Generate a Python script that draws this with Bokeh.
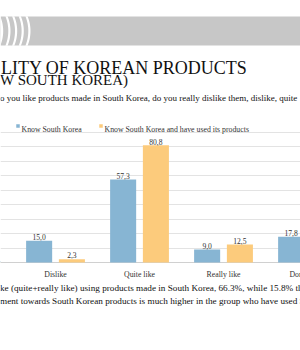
import numpy as np
from bokeh.plotting import figure
from bokeh.models import Range1d, Grid, FixedTicker, ColumnDataSource
from bokeh.core.properties import value
from bokeh.embed import file_html
from bokeh.resources import INLINE

# ---- data ----
categories = ["Really dislike", "Dislike", "Quite like", "Really like", "Don't know"]
know_sk = [1.0, 15.0, 57.3, 9.0, 17.8]
know_used = [0.3, 2.3, 80.8, 12.5, 4.0]
series_names = ["Know South Korea", "Know South Korea and have used its products"]
grid_ticks = [10, 20, 30, 40, 50, 60, 70, 80, 90]

title1 = "LITY OF KOREAN PRODUCTS"
title2 = "W SOUTH KOREA)"
subtitle = "o you like products made in South Korea, do you really dislike them, dislike, quite"
footer1 = "ke (quite+really like) using products made in South Korea, 66.3%, while 15.8% th"
footer2 = "ment towards South Korean products is much higher in the group who have used S"

BLUE = "#87b5d3"
ORANGE = "#fccb7c"
FONT = value("Liberation Serif")

p = figure(width=300, height=350, output_backend="svg", toolbar_location=None,
           x_range=Range1d(0, 300), y_range=Range1d(0, 350), title=None,
           x_axis_type=None, y_axis_type=None, min_border=0)
p.outline_line_color = None
p.background_fill_color = "white"
p.border_fill_color = "white"

H = 350  # canvas height; positions below are measured from the top via H - y

# category / value ranges
p.extra_x_ranges = {"cat": Range1d(0.345, 0.345 + 300 / 84.0)}
vstart = -88 / 1.45
p.extra_y_ranges = {"val": Range1d(vstart, vstart + 350 / 1.45)}

# header band, with curved white stripes at its left end
p.quad(left=[0], right=[300], bottom=[H - 45], top=[H - 16],
       fill_color="#c7c7c7", line_color=None)
stripe_right = [2.7, 10, 16.7, 23.3, 30]
R = 39
ang = np.linspace(-0.39, 0.39, 20)
sx, sy = [], []
for a in stripe_right:
    outer_x = (a - R) + R * np.cos(ang)
    outer_y = (H - 30.5) + R * np.sin(ang)
    sx.append(list(outer_x) + list((outer_x - 2.2)[::-1]))
    sy.append(list(outer_y) + list(outer_y[::-1]))
p.patches(xs=sx, ys=sy, fill_color="white", line_color=None)

# titles
p.text(x=[0.5], y=[H - 67], text=[title1], text_font=FONT, text_font_size="18px",
       text_baseline="alphabetic", text_color="#111111")
p.text(x=[-0.5], y=[H - 79.5], text=[title2], text_font=FONT, text_font_size="15px",
       text_baseline="alphabetic", text_color="#111111")
p.text(x=[-0.5], y=[H - 97.5], text=[subtitle], text_font=FONT, text_font_size="9px",
       text_baseline="alphabetic", text_color="#111111")

# grid
g = Grid(dimension=1, ticker=FixedTicker(ticks=grid_ticks), y_range_name="val",
         grid_line_color="#e3e3e3", grid_line_width=1)
p.add_layout(g)
g0 = Grid(dimension=1, ticker=FixedTicker(ticks=[0]), y_range_name="val",
          grid_line_color="#d0d0d0", grid_line_width=1)
p.add_layout(g0)

# bars
idx = list(range(len(categories)))
src = ColumnDataSource(dict(
    x1=[i - 0.195 for i in idx], x2=[i + 0.195 for i in idx],
    v1=know_sk, v2=know_used,
    l1=[f"{v:.1f}".replace(".", ",") for v in know_sk],
    l2=[f"{v:.1f}".replace(".", ",") for v in know_used],
    cat=categories, xc=idx,
))
p.vbar(x="x1", top="v1", bottom=0, width=0.31, source=src, fill_color=BLUE,
       line_color=None, x_range_name="cat", y_range_name="val")
p.vbar(x="x2", top="v2", bottom=0, width=0.31, source=src, fill_color=ORANGE,
       line_color=None, x_range_name="cat", y_range_name="val")

# value labels
for xs_, ls, vs in (("x1", "l1", "v1"), ("x2", "l2", "v2")):
    p.text(x=xs_, y=vs, text=ls, source=src, x_range_name="cat", y_range_name="val",
           text_font=FONT, text_font_size="7.6px", text_align="center",
           text_baseline="alphabetic", y_offset=-3.7, text_color="#333333")

# category labels
p.text(x="xc", y=0, text="cat", source=src, x_range_name="cat", y_range_name="val",
       text_font=FONT, text_font_size="7.8px", text_align="center",
       text_baseline="alphabetic", y_offset=11.5, text_color="#333333")

# legend
p.rect(x=[17.5, 100.5], y=[H - 125.5, H - 125.5], width=3.5, height=3.5,
       fill_color=[BLUE, ORANGE], line_color=None)
p.text(x=[21, 104], y=[H - 128.5, H - 128.5], text=series_names, text_font=FONT,
       text_font_size="7.8px", text_baseline="alphabetic", text_color="#333333")

# footer
p.text(x=[-0.5, -0.5], y=[H - 287, H - 300], text=[footer1, footer2], text_font=FONT,
       text_font_size="9.2px", text_baseline="alphabetic", text_color="#111111")

open("out.html", "w").write(file_html(p, INLINE))
